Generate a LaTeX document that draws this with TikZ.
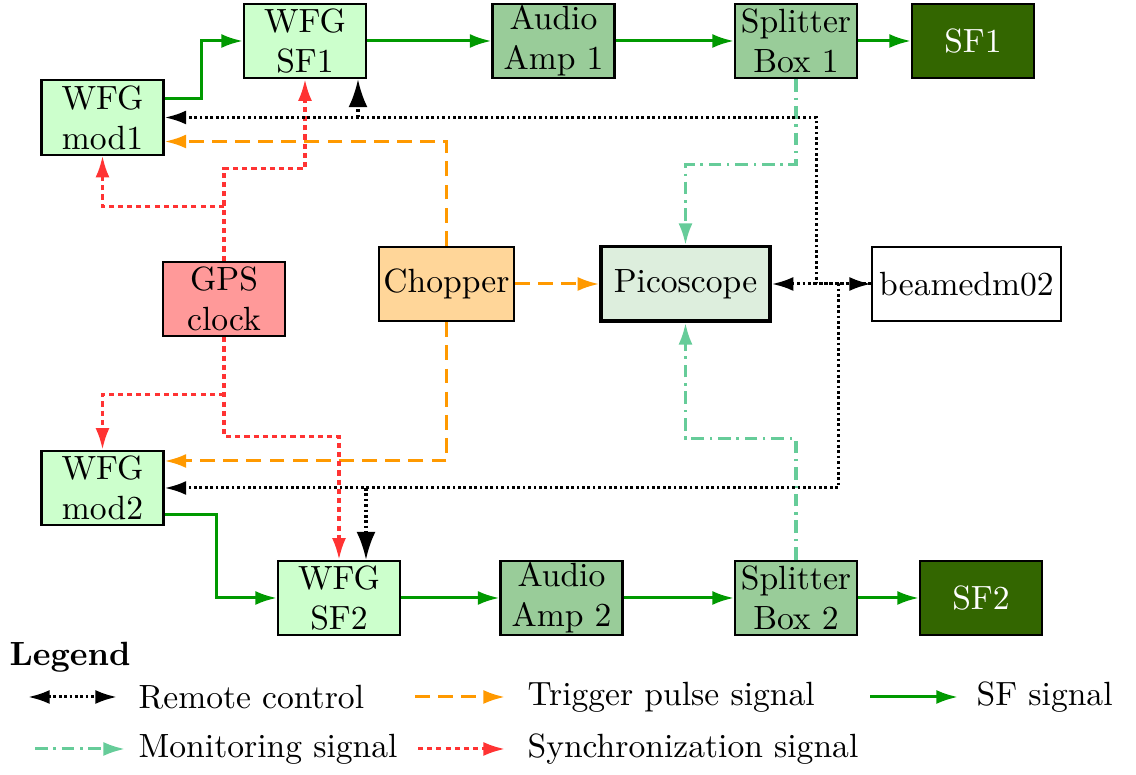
\documentclass[tikz,border=0pt]{standalone}
\usetikzlibrary{arrows.meta,calc}
\definecolor{wfg}{HTML}{CCFFCC}
\definecolor{amp}{HTML}{99CC99}
\definecolor{sfdark}{HTML}{336600}
\definecolor{gpsc}{HTML}{FF9999}
\definecolor{chopc}{HTML}{FFD699}
\definecolor{picoc}{HTML}{DDEEDD}
\definecolor{sfline}{HTML}{009900}
\definecolor{trig}{HTML}{FF9900}
\definecolor{sync}{HTML}{FF3333}
\definecolor{moni}{HTML}{66CC99}
\begin{document}
\begin{tikzpicture}[x=0.3155pt,y=-0.3155pt,
 font=\fontsize{10.6}{12.7}\selectfont,
 box/.style={draw=black,line width=0.65pt,minimum width=38.5pt,minimum height=23.5pt,inner sep=0pt,align=center},
 wfgbox/.style={box,fill=wfg},
 ampbox/.style={box,fill=amp},
 darkbox/.style={box,fill=sfdark,text=white},
 tip/.style={-{Latex[length=6.8pt,width=4.4pt]}},
 bigtip/.style={-{Latex[length=8.8pt,width=6pt]}},
 dbltip/.style={{Latex[length=6.8pt,width=4.4pt]}-{Latex[length=6.8pt,width=4.4pt]}},
 sfsig/.style={sfline,line width=0.95pt},
 trigsig/.style={trig,line width=0.95pt,dash pattern=on 4.7pt off 2.6pt},
 syncsig/.style={sync,line width=0.95pt,dash pattern=on 1.6pt off 1.3pt},
 monisig/.style={moni,line width=0.95pt,dash pattern=on 4pt off 1.8pt on 0.8pt off 1.8pt},
 rcsig/.style={black,line width=0.95pt,dash pattern=on 0.85pt off 0.85pt},
]
\useasboundingbox (0,0) rectangle (1136,775);
% nodes
\node[wfgbox] (mod1) at (102.5,117.5) {WFG\\mod1};
\node[wfgbox] (sf1w) at (305,41) {WFG\\SF1};
\node[ampbox] (amp1) at (553.5,41) {Audio\\Amp 1};
\node[ampbox] (spl1) at (796,41) {Splitter\\Box 1};
\node[darkbox] (sf1) at (973,41) {SF1};
\node[box,fill=gpsc] (gps) at (224,299) {GPS\\clock};
\node[box,fill=chopc,minimum width=42.6pt] (chop) at (446.5,284) {Chopper};
\node[box,fill=picoc,line width=1.1pt,minimum width=53.3pt] (pico) at (685.5,284) {Picoscope};
\node[box,fill=white,minimum width=59.6pt] (beam) at (966.5,284) {beamedm02};
\node[wfgbox] (mod2) at (102.5,488) {WFG\\mod2};
\node[wfgbox] (sf2w) at (339,598) {WFG\\SF2};
\node[ampbox] (amp2) at (561.5,598) {Audio\\Amp 2};
\node[ampbox] (spl2) at (796,598) {Splitter\\Box 2};
\node[darkbox] (sf2) at (981,598) {SF2};
% SF signal
\draw[sfsig,tip] ($(mod1.east)+(0,-19)$) -| ($(sf1w.west)+(-41,0)$) -- (sf1w.west);
\draw[sfsig,tip] (sf1w) -- (amp1);
\draw[sfsig,tip] (amp1) -- (spl1);
\draw[sfsig,tip] (spl1) -- (sf1);
\draw[sfsig,tip] ($(mod2.east)+(0,27)$) -| ($(sf2w.west)+(-60,0)$) -- (sf2w.west);
\draw[sfsig,tip] (sf2w) -- (amp2);
\draw[sfsig,tip] (amp2) -- (spl2);
\draw[sfsig,tip] (spl2) -- (sf2);
% monitoring
\draw[monisig,tip] (spl1.south) -- ++(0,85) -| (pico.north);
\draw[monisig,tip] (spl2.north) -- ++(0,-121) -| (pico.south);
% trigger
\draw[trigsig,tip] (chop.north) |- ($(mod1.east)+(0,24)$);
\draw[trigsig,tip] (chop.south) |- ($(mod2.east)+(0,-27)$);
\draw[trigsig,tip] (chop) -- (pico);
% sync
\draw[syncsig,tip] (gps.north) -- ++(0,-92) -| (sf1w.south);
\draw[syncsig,tip] ($(gps.north)+(0,-54)$) -| (mod1.south);
\draw[syncsig,tip] (gps.south) -- ++(0,99) -| (sf2w.north);
\draw[syncsig,tip] ($(gps.south)+(0,57)$) -| (mod2.north);
% remote control
\draw[rcsig,dbltip] (pico) -- (beam);
\draw[rcsig,tip] (beam.west) -- ++(-55,0) |- (mod1.east);
\draw[rcsig,tip] (beam.west) -- ++(-33,0) |- (mod2.east);
\coordinate (rcA) at (358,117.5);
\coordinate (rcB) at (366,488);
\draw[rcsig,bigtip] (rcA) -- (rcA |- sf1w.south);
\draw[rcsig,bigtip] (rcB) -- (rcB |- sf2w.north);
% legend
\node[anchor=west,inner sep=0pt,font=\fontsize{10.6}{12.7}\selectfont\bfseries] (leg) at (9,657) {Legend};
\coordinate (l1a) at (28,697); \coordinate (l1b) at (117,697);
\coordinate (l2a) at (415,697); \coordinate (l2b) at (505,697);
\coordinate (l3a) at (870,697); \coordinate (l3b) at (958,697);
\coordinate (l4a) at (35,749); \coordinate (l4b) at (125,749);
\coordinate (l5a) at (418,749); \coordinate (l5b) at (505,749);
\draw[rcsig,dbltip] (l1a) -- (l1b);
\draw[trigsig,tip] (l2a) -- (l2b);
\draw[sfsig,tip] (l3a) -- (l3b);
\draw[monisig,tip] (l4a) -- (l4b);
\draw[syncsig,tip] (l5a) -- (l5b);
\node[anchor=west,inner sep=0pt] (t1) at (138,697) {Remote control};
\node[anchor=west,inner sep=0pt] (t2) at (527,697) {Trigger pulse signal};
\node[anchor=west,inner sep=0pt] (t3) at (976,697) {SF signal};
\node[anchor=west,inner sep=0pt] (t4) at (138,749) {Monitoring signal};
\node[anchor=west,inner sep=0pt] (t5) at (527,749) {Synchronization signal};
\end{tikzpicture}
\end{document}
